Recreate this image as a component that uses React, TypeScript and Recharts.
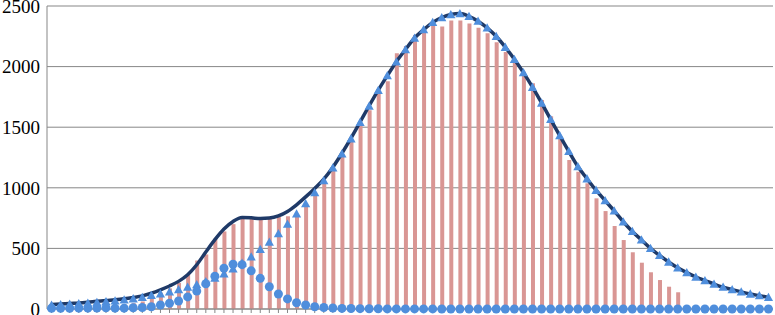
import React from 'react'
import { ComposedChart, Bar, Line, XAxis, YAxis, CartesianGrid } from 'recharts'

// observed counts (bars); null where no bar is drawn
const observed = [
  8, 10, 12, 14, 17, 20, 25, 30, 38, 48,
  62, 110, 135, 170, 215, 290, 400, 450, 580, 640,
  700, 745, 760, 745, 748, 760, 765, 780, 870, 960,
  1040, 1150, 1280, 1390, 1515, 1640, 1790, 1880, 2110, 2170,
  2260, 2320, 2340, 2330, 2380, 2380, 2355, 2320, 2275, 2200,
  2120, 2040, 1958, 1862, 1724, 1590, 1420, 1230, 1133, 1037,
  913, 808, 685, 569, 468, 382, 303, 239, 184, 138,
  null, null, null, null, null, null, null, null, null, null,
]

// fitted total (dark smooth line)
const fitted = [
  37, 41, 46, 50, 56, 63, 70, 76, 84, 95,
  108, 130, 158, 190, 228, 282, 365, 470, 572, 660,
  722, 755, 752, 746, 750, 768, 805, 860, 925, 995,
  1072, 1170, 1285, 1410, 1543, 1677, 1806, 1926, 2041, 2141,
  2236, 2305, 2365, 2405, 2430, 2438, 2415, 2375, 2320, 2250,
  2160, 2060, 1950, 1830, 1700, 1565, 1430, 1300, 1175, 1075,
  980, 895, 810, 720, 640, 570, 500, 442, 388, 340,
  300, 264, 235, 206, 180, 160, 141, 124, 110, 96,
]

// second component (triangles)
const componentB = [
  32, 36, 40, 44, 49, 55, 61, 68, 76, 85,
  96, 112, 126, 142, 160, 180, 202, 226, 255, 290,
  332, 378, 431, 492, 552, 622, 700, 786, 870, 960,
  1060, 1165, 1280, 1405, 1540, 1675, 1805, 1925, 2040, 2140,
  2235, 2305, 2365, 2405, 2430, 2438, 2415, 2375, 2320, 2250,
  2160, 2060, 1950, 1830, 1700, 1565, 1430, 1300, 1175, 1075,
  980, 895, 810, 720, 640, 570, 500, 442, 388, 340,
  300, 264, 235, 206, 180, 160, 141, 124, 110, 96,
]

// first component (circles)
const componentA = [
  6, 6, 6, 7, 7, 8, 10, 7, 7, 10,
  12, 19, 33, 47, 66, 100, 148, 208, 270, 336,
  369, 366, 315, 253, 184, 124, 83, 52, 33, 19,
  12, 8, 5, 4, 3, 2, 2, 1, 1, 1,
  1, 1, 1, 0, 0, 0, 0, 0, 0, 0,
  0, 0, 0, 0, 0, 0, 0, 0, 0, 0,
  0, 0, 0, 0, 0, 0, 0, 0, 0, 0,
  0, 0, 0, 0, 0, 0, 0, 0, 0, 0,
]

const yTicks = [0, 500, 1000, 1500, 2000, 2500]

const data = fitted.map((f, i) => ({
  idx: String(i + 1),
  observed: observed[i],
  fitted: f,
  b: componentB[i],
  a: componentA[i],
}))

const MARKER = '#4F8EDC'

const TriangleDot = (props: any) => {
  const { cx, cy, index } = props
  if (cx == null || cy == null) return <g key={index} />
  const s = 4.6
  return (
    <path
      key={index}
      d={`M${cx},${cy - s} L${cx + s},${cy + s * 0.8} L${cx - s},${cy + s * 0.8} Z`}
      fill={MARKER}
    />
  )
}

export default function App() {
  return (
    <div style={{ position: 'absolute', top: 0, left: 0, width: 775, height: 315, background: '#fff' }}>
      <ComposedChart
        width={775}
        height={315}
        data={data}
        margin={{ top: 6, right: 2, left: 0, bottom: 0 }}
        barCategoryGap={0}
        style={{ overflow: 'visible' }}
      >
        <CartesianGrid vertical={false} stroke="#878787" />
        <XAxis
          dataKey="idx"
          height={6}
          interval={0}
          tick={() => <g />}
          tickSize={4}
          tickLine={{ stroke: '#878787' }}
          axisLine={{ stroke: '#878787' }}
        />
        <YAxis
          domain={[0, 2500]}
          ticks={yTicks}
          interval={0}
          width={47}
          tickLine={false}
          tickSize={5}
          tickMargin={2}
          axisLine={{ stroke: '#878787' }}
          tick={{ fontFamily: 'Liberation Serif', fontSize: 19, fill: '#000' }}
        />
        <Bar dataKey="observed" fill="#D99694" barSize={4} isAnimationActive={false} />
        <Line
          type="monotone"
          dataKey="fitted"
          stroke="#1F3A68"
          strokeWidth={3.5}
          dot={false}
          isAnimationActive={false}
        />
        <Line
          dataKey="b"
          stroke="none"
          dot={TriangleDot}
          activeDot={false}
          isAnimationActive={false}
        />
        <Line
          dataKey="a"
          stroke="none"
          dot={{ r: 4.5, fill: MARKER, stroke: 'none' }}
          activeDot={false}
          isAnimationActive={false}
        />
      </ComposedChart>
    </div>
  )
}
